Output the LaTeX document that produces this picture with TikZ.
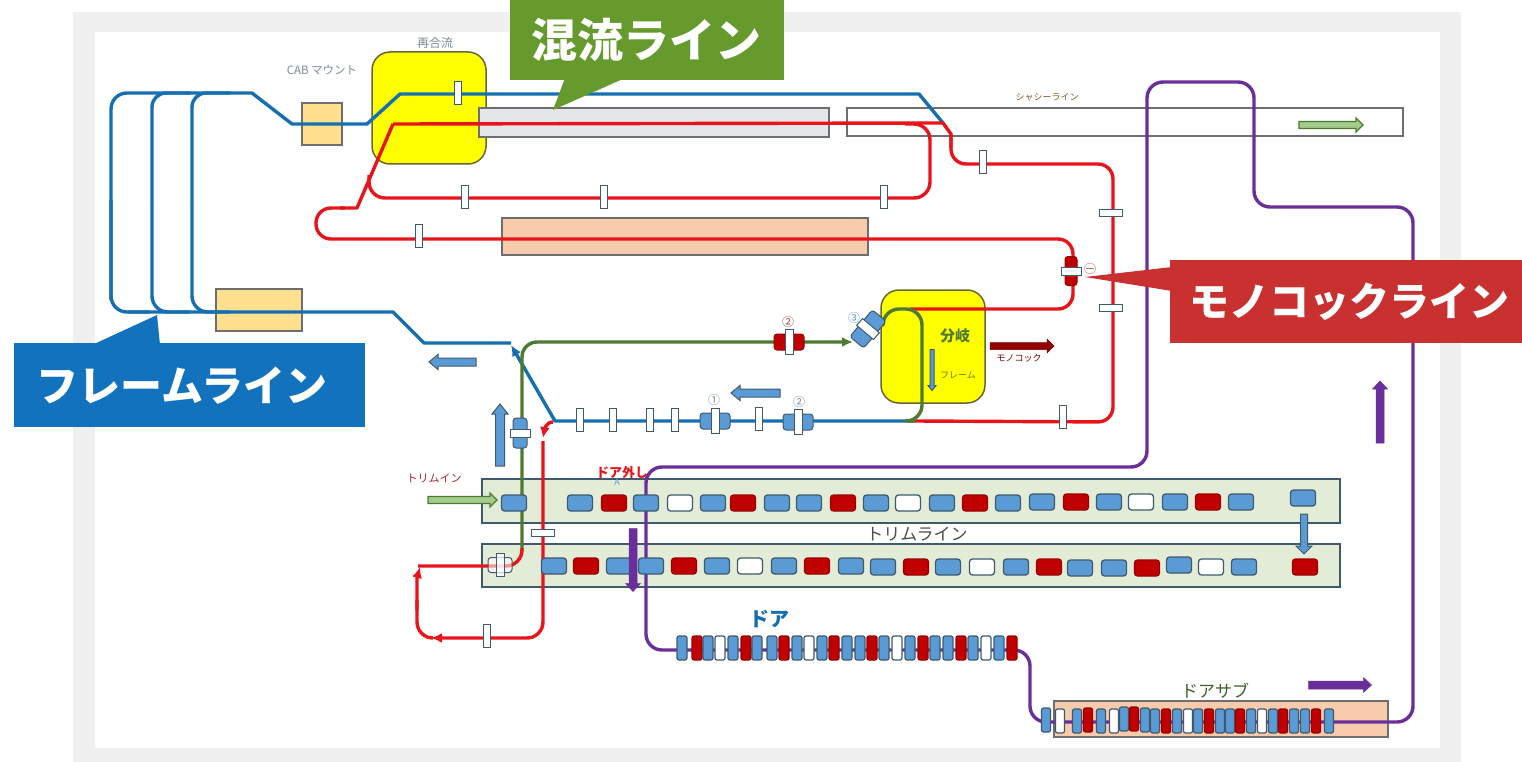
\documentclass[tikz,border=0pt]{standalone}
\usepackage{fontspec}
\setmainfont{Noto Sans CJK JP}
\usetikzlibrary{arrows.meta}
\definecolor{bgGrey}{HTML}{F0F0F0}
\definecolor{lnBlue}{HTML}{156FB0}
\definecolor{lnRed}{HTML}{E8141C}
\definecolor{lnGreen}{HTML}{4F7A32}
\definecolor{lnPurple}{HTML}{6A2F9B}
\definecolor{cBlue}{HTML}{5B9BD5}
\definecolor{cRed}{HTML}{C00000}
\definecolor{edge}{HTML}{3F5A6E}
\definecolor{trimFill}{HTML}{E3ECD6}
\definecolor{peach}{HTML}{F8CBAD}
\definecolor{sand}{HTML}{FFE08F}
\definecolor{arGreen}{HTML}{A3CB8C}
\definecolor{pureYellow}{HTML}{FFFF00}
\definecolor{paleGrey}{HTML}{E4E6EA}
\definecolor{boxEdge}{HTML}{6E6E6E}
\definecolor{yelEdge}{HTML}{66663A}
\definecolor{calloutGreen}{HTML}{669A2C}
\definecolor{calloutRed}{HTML}{C93030}
\definecolor{calloutBlue}{HTML}{1272BE}
% block arrow: style, name, centre x, centre y, rotation, length, shaft, head width, head length
\newcommand{\blockarr}[9]{%
  \coordinate (#2) at (#3,#4);
  \draw[#1,shift={(#2)},rotate=#5] (-#6/2,-#7/2) -- (#6/2-#9,-#7/2) -- (#6/2-#9,-#8/2) -- (#6/2,0) -- (#6/2-#9,#8/2) -- (#6/2-#9,#7/2) -- (-#6/2,#7/2) -- cycle;}
\tikzset{
  x=1pt,y=-1pt,
  pipe/.style={line width=3.4pt,line join=round},
  redpipe/.style={pipe,draw=lnRed},
  bluepipe/.style={pipe,draw=lnBlue},
  greenpipe/.style={pipe,draw=lnGreen},
  purplepipe/.style={pipe,draw=lnPurple},
  area/.style={draw=#1,line width=1.5pt,inner sep=0pt,outer sep=0pt},
  cell/.style={draw=edge,line width=1.3pt,rounded corners=3pt,minimum width=25pt,minimum height=16pt,inner sep=0pt},
  cellb/.style={cell,fill=cBlue},
  cellr/.style={cell,fill=cRed,draw=cRed!80!black},
  cellw/.style={cell,fill=white},
  slim/.style={draw=edge,line width=1.2pt,rounded corners=2pt,minimum width=10pt,minimum height=24pt,inner sep=0pt},
  slimb/.style={slim,fill=cBlue},
  slimr/.style={slim,fill=cRed,draw=cRed!80!black},
  slimw/.style={slim,fill=white},
  gate/.style={draw=edge,line width=1.2pt,fill=white,minimum width=7pt,minimum height=23pt,inner sep=0pt},
  hgate/.style={draw=edge,line width=1.2pt,fill=white,minimum width=23pt,minimum height=7pt,inner sep=0pt},
  vbody/.style={draw=edge,line width=1pt,rounded corners=3pt,minimum width=30pt,minimum height=16pt,inner sep=0pt},
  vbar/.style={draw=edge,line width=1pt,fill=white,minimum width=8pt,minimum height=25pt,inner sep=0pt},
  arBlue/.style={draw=edge,fill=cBlue,line width=1pt},
  arGrn/.style={draw=lnGreen,fill=arGreen,line width=1.2pt},
  arDark/.style={draw=cRed!70!black,fill=cRed!75!black,line width=.5pt},
  arPurp/.style={draw=lnPurple,fill=lnPurple,line width=.5pt},
  lab/.style={inner sep=0pt,font=\fontsize{#1}{#1}\selectfont},
  callout/.style={fill=#1,inner sep=0pt,outer sep=0pt},
  calltext/.style={text=white,inner sep=0pt,font=\fontsize{#1}{#1}\selectfont\bfseries},
  tip/.style={-{Latex[length=11pt,width=10pt]}}
}
\begin{document}
\begin{tikzpicture}
\useasboundingbox (0,0) rectangle (1522,762);
\fill[white] (0,0) rectangle (1522,762);
\fill[bgGrey] (73,12) rectangle (1461,762);
\fill[white] (95,32) rectangle (1440,748);

% areas
\node[area=yelEdge,fill=pureYellow,rounded corners=18pt,minimum width=114pt,minimum height=112pt,anchor=north west] (rejoin) at (372,52) {};
\node[area=boxEdge,fill=paleGrey,minimum width=350pt,minimum height=29pt,anchor=north west] (mixbar) at (479,108) {};
\node[area=boxEdge,fill=white,minimum width=556pt,minimum height=28pt,anchor=north west] (chassis) at (847,108) {};
\node[area=boxEdge,fill=peach,minimum width=366pt,minimum height=37pt,anchor=north west] (peachbar) at (502,218) {};
\node[area=boxEdge,fill=sand,minimum width=40pt,minimum height=42pt,anchor=north west] (cab) at (302,103) {};
\node[area=boxEdge,fill=sand,minimum width=86pt,minimum height=42pt,anchor=north west] (framebox) at (216,289) {};
\node[area=yelEdge,fill=pureYellow,rounded corners=18pt,minimum width=104pt,minimum height=113pt,anchor=north west] (branch) at (881,290) {};
\node[area=edge,fill=trimFill,minimum width=858pt,minimum height=44pt,anchor=north west] (trimA) at (482,479) {};
\node[area=edge,fill=trimFill,minimum width=858pt,minimum height=43pt,anchor=north west] (trimB) at (482,544) {};
\node[area=boxEdge,fill=peach,minimum width=334pt,minimum height=36pt,anchor=north west] (subbar) at (1054,701) {};

% coordinates
\coordinate (jBlueEnd) at (915,421);
\coordinate (jTip) at (511,345);
\coordinate (jSplit) at (393,124);
\coordinate (jRedEnd) at (943,123);

% frame line
\draw[bluepipe,rounded corners=16pt] (111,300) -- (111,93) -- (250,93);
\draw[bluepipe] (250,93) -- (252,93) -- (292,124) -- (367,124) -- (400,94) -- (919,94) -- (jRedEnd);
\draw[bluepipe,rounded corners=14pt] (152,200) -- (152,93) -- (190,93);
\draw[bluepipe,rounded corners=14pt] (192,200) -- (192,93) -- (230,93);
\draw[bluepipe,rounded corners=16pt] (111,200) -- (111,312) -- (150,312);
\draw[bluepipe,rounded corners=16pt] (152,200) -- (152,312) -- (190,312);
\draw[bluepipe,rounded corners=16pt] (192,200) -- (192,312) -- (230,312);
\draw[bluepipe] (128,312) -- (393,312) -- (424,343) -- (511,343);
\draw[bluepipe,tip] (jBlueEnd) -- (555,421) -- (jTip);

% mixing red line
\draw[redpipe] (jSplit) -- (jRedEnd) -- (951,134) -- (951,148);
\draw[redpipe,rounded corners=15pt] (951,134) -- (951,164) -- (1113,164) -- (1113,422) -- (jBlueEnd);
\draw[redpipe,rounded corners=16pt] (905,124) -- (930,124) -- (930,198) -- (369,198) -- (369,175);
\draw[redpipe] (jSplit) -- (357,208) -- (340,208);
\draw[redpipe,rounded corners=15pt] (345,208) -- (316,208) -- (316,239) -- (1073,239) -- (1073,309) -- (910,309);

% green line
\draw[greenpipe,rounded corners=16pt] (883,322) -- (883,309) -- (922,309) -- (922,421) -- (jBlueEnd);
\draw[greenpipe,rounded corners=15pt,tip] (522,550) -- (522,342) -- (853,342);

% trim red
\draw[redpipe,tip] (553,422) to[out=180,in=80] (543,438);
\draw[redpipe,rounded corners=16pt,tip] (543,441) -- (543,638) -- (431,638);
\draw[redpipe,rounded corners=16pt] (433,638) -- (417,638) -- (417,600);
\draw[redpipe,tip] (417,610) -- (417,578) -- (420,567);
\draw[redpipe,rounded corners=16pt] (418,566) -- (522,566) -- (522,548);

% purple
\draw[purplepipe,rounded corners=16pt] (1045,722) -- (1413,722) -- (1413,207) -- (1254,207) -- (1254,82) -- (1147,82) -- (1147,467) -- (646,467) -- (646,650) -- (1030,650) -- (1030,722) -- (1060,722);

% gates
\foreach \n/\x/\y in {a/458/93,b/465/197,c/604/197,d/884/197,e/419/236,f/983/162,g/1063/417,h/580/420,i/613/420,j/650/420,k/675/420,l/759/419,m/487/636}
  \node[gate] (gate\n) at (\x,\y) {};
\foreach \n/\x/\y in {a/1111/213,b/1111/308,c/543/533}
  \node[hgate] (hgate\n) at (\x,\y) {};

% valves
\node[vbody,fill=cBlue] (v1) at (715,421) {};
\node[vbar] at (v1) {};
\node[vbody,fill=cBlue] (v2) at (798,422) {};
\node[vbar] at (v2) {};
\node[vbody,fill=cRed,draw=cRed!80!black] (v3) at (789,342) {};
\node[vbar] at (v3) {};
\node[vbody,fill=cBlue,minimum width=14pt,minimum height=30pt] (v4) at (520,433) {};
\node[vbar,minimum width=20pt,minimum height=8pt] at (v4) {};
\node[vbody,fill=cRed,draw=cRed!80!black,minimum width=12pt,minimum height=29pt] (v5) at (1071,271) {};
\node[vbar,minimum width=20pt,minimum height=8pt] at (v5) {};
\node[vbody,fill=cBlue,minimum width=35pt,minimum height=18pt,rotate=50] (v6) at (868,329) {};
\node[vbar,rotate=50,minimum width=9pt,minimum height=22pt] at (v6) {};
\node[vbody,fill=white,fill opacity=.55,minimum width=24pt,minimum height=15pt] (v7) at (500,565) {};
\node[vbar,fill opacity=.7,minimum height=23pt] at (v7) {};

% trim cells
\foreach \x/\y/\k in {514/503/b,580/503/b,614/503/r,646/503/b,680/503/w,713/503/b,743/503/r,777/503/b,809/503/b,843/503/r,876/503/b,908/503/w,942/503/b,975/503/r,1008/503/b,1042/502/b,1076/502/r,1109/502/b,1141/502/w,1175/502/b,1208/502/r,1241/502/b,1303/498/b}
  \node[cell\k] at (\x,\y) {};
\foreach \x/\y/\k in {554/566/b,586/566/r,619/566/b,651/566/b,684/566/r,717/566/b,750/566/w,784/566/b,817/566/r,851/566/b,883/567/b,916/567/r,948/567/b,982/567/w,1016/567/b,1049/567/r,1080/568/b,1114/568/b,1147/568/r,1179/565/b,1211/567/w,1244/567/b,1305/567/r}
  \node[cell\k] at (\x,\y) {};

% door cells
\foreach \x/\k in {682/b,697/r,708/b,720/w,733/b,746/r,757/b,772/b,784/r,797/b,809/w,822/b,834/r,847/b,860/b,872/r,884/b,897/w,910/b,923/r,935/b,948/b,961/r,973/b,986/w,999/b,1012/r}
  \node[slim\k] at (\x,648) {};
\foreach \x/\y/\k in {1046/720/b,1060/721/w,1077/721/b,1088/720/r,1101/721/b,1114/721/w,1124/719/b,1134/719/r,1145/720/b,1155/721/b,1166/721/r,1177/721/b,1188/721/w,1198/721/b,1209/721/r,1220/721/b,1230/721/b,1240/721/r,1251/721/b,1262/721/w,1273/721/b,1283/721/r,1294/721/b,1305/721/b,1316/721/r,1329/721/b}
  \node[slim\k,minimum width=9pt] at (\x,\y) {};

% block arrows
\blockarr{arBlue}{ar1}{452.5}{362}{180}{47}{8}{15}{9}
\blockarr{arBlue}{ar2}{755.5}{393}{180}{49}{8}{15}{9}
\blockarr{arBlue}{ar3}{500}{435}{90}{62}{9}{16}{10}
\blockarr{arBlue}{ar4}{1304}{534}{-90}{40}{7}{16}{8}
\blockarr{arGrn}{ar5}{462.5}{500}{0}{69}{7}{14}{7}
\blockarr{arGrn}{ar6}{1331}{125}{0}{64}{7}{14}{7}
\blockarr{arDark}{ar7}{1022}{346}{0}{64}{7}{14}{7}
\blockarr{arBlue}{ar8}{932}{370}{-90}{41}{4}{8}{5}
\blockarr{arPurp}{ar9}{633}{560}{-90}{63}{8}{15}{8}
\blockarr{arPurp}{ar10}{1380}{412}{90}{62}{8}{15}{8}
\blockarr{arPurp}{ar11}{1340}{685}{0}{63}{8}{15}{8}

% small labels
\node[lab=12,text=edge!70] (t1) at (435,43) {再合流};
\node[lab=11.5,text=edge!70] (t2) at (322,70) {CAB マウント};
\node[lab=9,text=brown!70!black] (t3) at (1047,97) {シャシーライン};
\node[lab=15,text=lnGreen,font=\fontsize{15}{15}\selectfont\bfseries] (t4) at (955,336) {分岐};
\node[lab=9,text=olive!80!black] (t5) at (958,375) {フレーム};
\node[lab=9,text=cRed!70!black] (t6) at (1019,358) {モノコック};
\node[lab=11,text=cRed!70!gray] (t7) at (434,478) {トリムイン};
\node[lab=13,text=lnRed,font=\fontsize{13}{13}\selectfont\bfseries] (t8) at (622,473) {ドア外し};
\node[lab=9,text=cBlue] (t9) at (617,482) {A};
\node[lab=17,text=black!70] (t10) at (917,534) {トリムライン};
\node[lab=20,text=lnBlue,font=\fontsize{20}{20}\selectfont\bfseries] (t11) at (769,619) {ドア};
\node[lab=17,text=lnGreen!80!black] (t12) at (1215,691) {ドアサブ};
\node[lab=12,text=gray!70!cBlue] (t13) at (714,400) {①};
\node[lab=12,text=gray!70!cBlue] (t14) at (799,402) {②};
\node[lab=12,text=cRed!50!gray] (t15) at (788,322) {②};
\node[lab=12,text=cBlue] (t16) at (854,318) {③};
\node[lab=12,text=cRed!50!gray] (t17) at (1090,269) {㊀};

% callouts
\fill[calloutGreen] (565,78) -- (553,110) -- (625,78) -- cycle;
\node[callout=calloutGreen,minimum width=274pt,minimum height=80pt,anchor=north west] (cMix) at (510,0) {};
\node[calltext=46] at (646,40) {混流ライン};
\fill[calloutRed] (1172,267) -- (1085,277) -- (1172,291) -- cycle;
\node[callout=calloutRed,minimum width=352pt,minimum height=83pt,anchor=north west] (cMono) at (1170,260) {};
\node[calltext=40] at (1349,302) {モノコックライン};
\fill[calloutBlue] (92,345) -- (157,315) -- (160,345) -- cycle;
\node[callout=calloutBlue,minimum width=351pt,minimum height=84pt,anchor=north west] (cFrame) at (14,343) {};
\node[calltext=42] at (182,386) {フレームライン};
\end{tikzpicture}
\end{document}
